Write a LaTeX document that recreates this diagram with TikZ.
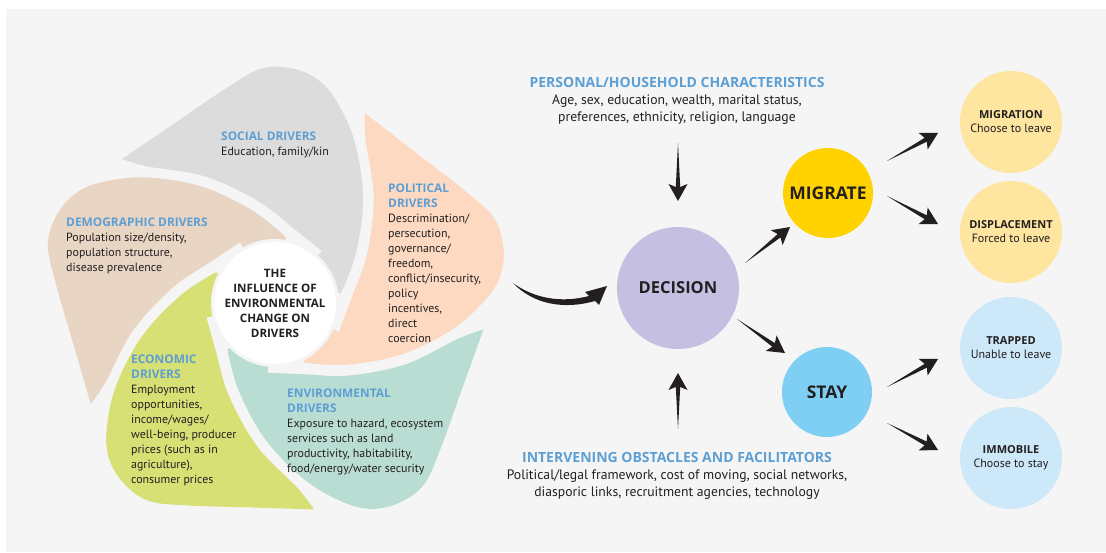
\documentclass[tikz,border=0pt]{standalone}
\usepackage{fontspec}
\setmainfont{PT Sans}
\newfontfamily\capsfont{Open Sans}
\usetikzlibrary{calc}
\definecolor{bggray}{HTML}{F5F5F5}
\definecolor{socialgray}{HTML}{DCDCDC}
\definecolor{politicalpeach}{HTML}{FCD9C0}
\definecolor{envteal}{HTML}{B9DDD3}
\definecolor{econgreen}{HTML}{D6E074}
\definecolor{demobeige}{HTML}{E8D5C4}
\definecolor{headblue}{HTML}{5E9FD3}
\definecolor{decpurple}{HTML}{C5BFE1}
\definecolor{migyellow}{HTML}{FFD200}
\definecolor{stayblue}{HTML}{7FCEF4}
\definecolor{paleyellow}{HTML}{FEE5A0}
\definecolor{paleblue}{HTML}{CCE8F9}
\definecolor{inkblack}{HTML}{231F20}
\newcommand{\drvhead}[1]{{\color{headblue}\capsfont\bfseries #1}}
\newcommand{\outhead}[1]{{\capsfont\bfseries\fontsize{11}{14}\selectfont #1}}
\newcommand{\sidehead}[1]{{\color{headblue}\capsfont\bfseries\fontsize{14}{18}\selectfont #1}}
\newcommand{\petal}[2]{\fill[#2, shift={(275,303)}, rotate=#1]
  plot[smooth, tension=0.6] coordinates {(-153,-144) (-103,-178) (-50,-214) (-15,-234) (15,-235) (42,-224) (62,-201) (80,-160) (88,-105) (81,-50) (66,-10)}
  -- (0,0) -- plot[smooth, tension=0.6] coordinates {(47,-52) (18,-75) (-17,-102) (-70,-126.5) (-127,-136.5) (-153,-144)} -- cycle;}
\newcommand{\wedgearrow}[2]{\coordinate (wa) at (#1); \coordinate (wb) at (#2);
  \fill[inkblack] (wa) -- ($(wb)!14pt!(wa)!2.2pt!90:(wa)$) -- ($(wb)!17pt!(wa)!9.5pt!90:(wa)$) -- (wb)
    -- ($(wb)!17pt!(wa)!9.5pt!-90:(wa)$) -- ($(wb)!14pt!(wa)!2.2pt!-90:(wa)$) -- cycle;}

\begin{document}
\begin{tikzpicture}[x=1pt, y=-1pt, every node/.style={inner sep=0pt, text=inkblack},
  drvtext/.style={anchor=north west, align=left, font=\fontsize{11.9}{15}\selectfont},
  sidetext/.style={anchor=north, align=center, font=\fontsize{13.7}{17}\selectfont},
  choice/.style={circle, minimum size=90pt, font=\capsfont\bfseries\fontsize{17.5}{20}\selectfont},
  outcome/.style={circle, minimum size=102pt, align=center, font=\fontsize{12}{14}\selectfont}]
  \useasboundingbox (0,0) rectangle (1106,552);
  \fill[bggray] (6,9) rectangle (1106,552);
  \petal{0}{socialgray}
  \petal{-72}{politicalpeach}
  \petal{-144}{envteal}
  \petal{-216}{econgreen}
  \petal{-288}{demobeige}
  \fill[bggray] (275,303) circle[radius=64pt];
  \node[circle, fill=white, minimum size=107pt, align=center, font=\capsfont\bfseries\fontsize{11.6}{15}\selectfont] (influence) at (275,303) {THE\\INFLUENCE OF\\ENVIRONMENTAL\\CHANGE ON\\DRIVERS};
  \node[drvtext] (social) at (221,132) {\drvhead{SOCIAL DRIVERS}\\Education, family/kin};
  \node[drvtext] (political) at (388,184) {\drvhead{POLITICAL}\\\drvhead{DRIVERS}\\Descrimination/\\persecution,\\governance/\\freedom,\\conflict/insecurity,\\policy\\incentives,\\direct\\coercion};
  \node[drvtext] (environmental) at (287,389) {\drvhead{ENVIRONMENTAL}\\\drvhead{DRIVERS}\\Exposure to hazard, ecosystem\\services such as land\\productivity, habitability,\\food/energy/water security};
  \node[drvtext] (economic) at (131,355) {\drvhead{ECONOMIC}\\\drvhead{DRIVERS}\\Employment\\opportunities,\\income/wages/\\well-being, producer\\prices (such as in\\agriculture),\\consumer prices};
  \node[drvtext] (demographic) at (66,218) {\drvhead{DEMOGRAPHIC DRIVERS}\\Population size/density,\\population structure,\\disease prevalence};

  \node[circle, fill=decpurple, minimum size=122pt, font=\capsfont\bfseries\fontsize{16.5}{20}\selectfont] (decision) at (678,288) {DECISION};
  \node[choice, fill=migyellow] (migrate) at (828,193) {MIGRATE};
  \node[choice, fill=stayblue] (stay) at (827,392) {STAY};
  \node[outcome, fill=paleyellow] (migration) at (1011,122) {\outhead{MIGRATION}\\Choose to leave};
  \node[outcome, fill=paleyellow] (displacement) at (1011,232) {\outhead{DISPLACEMENT}\\Forced to leave};
  \node[outcome, fill=paleblue] (trapped) at (1011,348) {\outhead{TRAPPED}\\Unable to leave};
  \node[outcome, fill=paleblue] (immobile) at (1011,458) {\outhead{IMMOBILE}\\Choose to stay};
  \node[sidetext] (personal) at (677,77) {\sidehead{PERSONAL/HOUSEHOLD CHARACTERISTICS}\\Age, sex, education, wealth, marital status,\\preferences, ethnicity, religion, language};
  \node[sidetext] (obstacles) at (677,452) {\sidehead{INTERVENING OBSTACLES AND FACILITATORS}\\Political/legal framework, cost of moving, social networks,\\diasporic links, recruitment agencies, technology};

  \fill[inkblack] (513,283) .. controls (535,299) and (562,303) .. (589,296) -- (585,292) -- (607,286) -- (599,305) -- (595,301) .. controls (563,310) and (533,304) .. (513,283) -- cycle;
  \wedgearrow{$(decision)+(0,-145)$}{$(decision)+(0,-87)$}
  \wedgearrow{$(decision)+(0,141)$}{$(decision)+(0,85)$}
  \wedgearrow{$(decision)+(67,-25)$}{$(migrate)+(-38,34)$}
  \wedgearrow{$(decision)+(59,31)$}{$(stay)+(-42,-39)$}
  \wedgearrow{$(migrate)+(59,-32)$}{$(migration)+(-73,11)$}
  \wedgearrow{$(migrate)+(59,3)$}{$(displacement)+(-73,-8)$}
  \wedgearrow{$(stay)+(60,-5)$}{$(trapped)+(-73,11)$}
  \wedgearrow{$(stay)+(60,31)$}{$(immobile)+(-73,-8)$}
\end{tikzpicture}
\end{document}
